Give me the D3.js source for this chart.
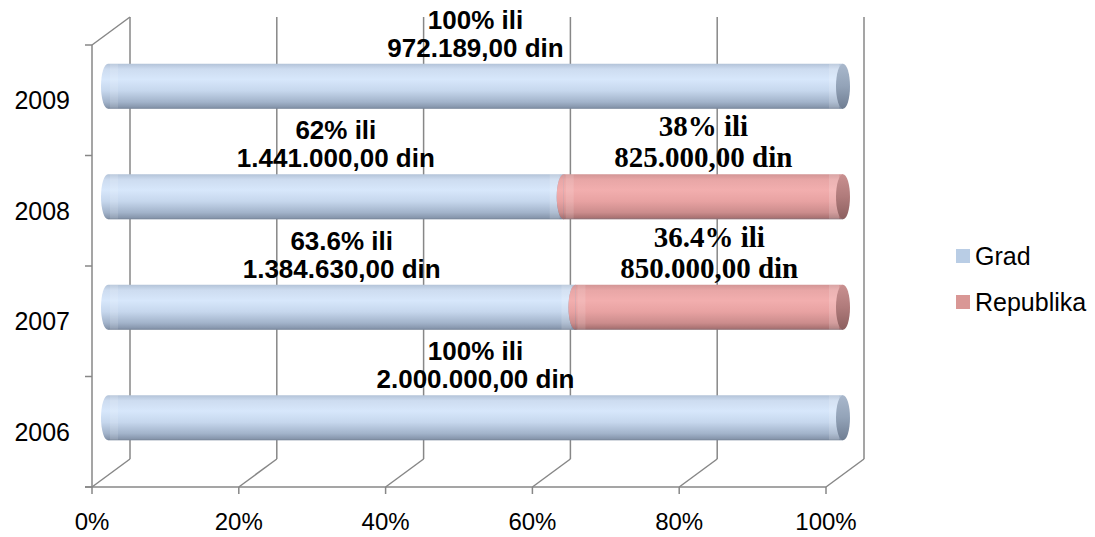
<!DOCTYPE html>
<html>
<head>
<meta charset="utf-8">
<script src="https://cdn.jsdelivr.net/npm/d3@7"></script>
<style>
  body { margin: 0; background: #fff; }
  text { font-family: "Liberation Sans", Arial, sans-serif; }
</style>
</head>
<body>
<div id="root"></div>
<script>
const years = ['2006', '2007', '2008', '2009'];
const gradShare = [1.0, 0.636, 0.62, 1.0];
const republikaShare = [0, 0.364, 0.38, 0];
const gradLabels = [
  ['100% ili', '2.000.000,00 din'],
  ['63.6% ili', '1.384.630,00 din'],
  ['62% ili', '1.441.000,00 din'],
  ['100% ili', '972.189,00 din']
];
const republikaLabels = [
  null,
  ['36.4% ili', '850.000,00 din'],
  ['38% ili', '825.000,00 din'],
  null
];
const xTicks = [0, 0.2, 0.4, 0.6, 0.8, 1];
const seriesNames = ['Grad', 'Republika'];

const width = 1095, height = 537;
const depth = {x: 38, y: -28};
const gridColor = '#878787';

let svg = d3.select('#root').append('svg')
  .attr('width', width)
  .attr('height', height);

// front frame scales
let x = d3.scaleLinear().domain([0, 1]).range([92, 826]);
let y = d3.scaleBand().domain(years.slice().reverse()).range([45, 487]).paddingInner(0);
// bars sit half way back in depth
let xb = d3.scaleLinear().domain([0, 1]).range([108, 843]);
const barH = 45, rx = 7;
const barCenter = (yr) => y(yr) + y.bandwidth() / 2 + depth.y / 2;

// gradients
let defs = svg.append('defs');
function cylGrad(id, stops) {
  let g = defs.append('linearGradient').attr('id', id)
    .attr('x1', 0).attr('y1', 0).attr('x2', 0).attr('y2', 1);
  stops.forEach(s => g.append('stop').attr('offset', s[0]).attr('stop-color', s[1]));
}
cylGrad('gradBody', [[0, '#b3c3d8'], [0.12, '#cddcf0'], [0.35, '#d7e7fb'], [0.6, '#c6d7ed'], [0.85, '#a2b3ca'], [1, '#7f8ea4']]);
cylGrad('gradFace', [[0, '#a9b8cc'], [0.5, '#93a3b8'], [1, '#6f7d92']]);
cylGrad('repBody', [[0, '#d29595'], [0.12, '#e8a6a6'], [0.35, '#f2aeae'], [0.6, '#e8a2a2'], [0.85, '#cb8c8c'], [1, '#a06b6b']]);
cylGrad('repFace', [[0, '#c99090'], [0.5, '#b07b7b'], [1, '#8c5f5f']]);

// back wall gridlines
let grid = svg.append('g').attr('stroke', gridColor).attr('stroke-width', 1.5).attr('fill', 'none');
grid.selectAll('.back')
  .data(xTicks)
  .enter().append('line')
  .attr('x1', d => x(d) + depth.x).attr('x2', d => x(d) + depth.x)
  .attr('y1', 45 + depth.y).attr('y2', 487 + depth.y);
// floor diagonals
grid.selectAll('.floor')
  .data(xTicks)
  .enter().append('line')
  .attr('x1', d => x(d)).attr('y1', 487)
  .attr('x2', d => x(d) + depth.x).attr('y2', 487 + depth.y);
// left wall
grid.append('line').attr('x1', x(0)).attr('x2', x(0)).attr('y1', 45).attr('y2', 487);
grid.append('line').attr('x1', x(0)).attr('y1', 45).attr('x2', x(0) + depth.x).attr('y2', 45 + depth.y);
// front bottom axis
grid.append('line').attr('x1', x(0) - 7).attr('x2', x(1)).attr('y1', 487).attr('y2', 487);
grid.selectAll('.xtick')
  .data(xTicks)
  .enter().append('line')
  .attr('x1', d => x(d)).attr('x2', d => x(d))
  .attr('y1', 487).attr('y2', 494);
// y ticks on band boundaries
let bounds = years.map(yr => y(yr)).concat([487]);
grid.selectAll('.ytick')
  .data(bounds)
  .enter().append('line')
  .attr('x1', x(0) - 7).attr('x2', x(0))
  .attr('y1', d => d).attr('y2', d => d);

// cylinders
function cylinder(g, x0, x1, cy, body, face) {
  let top = cy - barH / 2, bot = cy + barH / 2;
  g.append('path')
    .attr('d', `M${x0},${top} A${rx},${barH / 2} 0 0 0 ${x0},${bot} Z`)
    .attr('fill', `url(#${body})`);
  g.append('rect')
    .attr('x', x0).attr('y', top)
    .attr('width', x1 - x0).attr('height', barH)
    .attr('fill', `url(#${body})`);
  // soft highlight strips near ends
  g.append('rect')
    .attr('x', x0 + 2).attr('y', top).attr('width', 8).attr('height', barH)
    .attr('fill', '#fff').attr('opacity', 0.12);
  g.append('rect')
    .attr('x', x1 - 14).attr('y', top).attr('width', 10).attr('height', barH)
    .attr('fill', '#fff').attr('opacity', 0.15);
  g.append('ellipse')
    .attr('cx', x1).attr('cy', cy)
    .attr('rx', rx).attr('ry', barH / 2)
    .attr('fill', `url(#${face})`);
  g.append('line')
    .attr('x1', x0).attr('x2', x1).attr('y1', bot - 0.5).attr('y2', bot - 0.5)
    .attr('stroke', '#6f7b8c').attr('stroke-opacity', 0.35);
}

let bars = svg.append('g');
years.forEach((yr, i) => {
  let cy = barCenter(yr);
  if (gradShare[i] > 0) cylinder(bars, xb(0), xb(gradShare[i]), cy, 'gradBody', 'gradFace');
  if (republikaShare[i] > 0) cylinder(bars, xb(gradShare[i]), xb(gradShare[i] + republikaShare[i]), cy, 'repBody', 'repFace');
});

// data labels
let labels = svg.append('g').attr('text-anchor', 'middle').attr('font-weight', 'bold').attr('fill', '#000');
years.forEach((yr, i) => {
  let top = barCenter(yr) - barH / 2;
  if (gradLabels[i]) {
    let cx = (xb(0) + xb(gradShare[i])) / 2;
    let t = labels.append('text')
      .attr('font-size', 26)
      .style('font-family', '"Liberation Sans", Arial, sans-serif');
    t.append('tspan').attr('x', cx).attr('y', top - 35).text(gradLabels[i][0]);
    t.append('tspan').attr('x', cx).attr('y', top - 7).text(gradLabels[i][1]);
  }
  if (republikaLabels[i]) {
    let cx = (xb(gradShare[i]) + xb(gradShare[i] + republikaShare[i])) / 2;
    let t = labels.append('text')
      .attr('font-size', 29)
      .style('font-family', '"Liberation Serif", "Times New Roman", serif');
    t.append('tspan').attr('x', cx).attr('y', top - 38).text(republikaLabels[i][0]);
    t.append('tspan').attr('x', cx).attr('y', top - 7).text(republikaLabels[i][1]);
  }
});

// axis labels
svg.append('g').selectAll('text')
  .data(years)
  .enter().append('text')
  .attr('x', 70)
  .attr('y', d => y(d) + y.bandwidth() / 2)
  .attr('dy', '0.36em')
  .attr('text-anchor', 'end')
  .attr('font-size', 25)
  .attr('fill', '#000')
  .text(d => d);

svg.append('g').selectAll('text')
  .data(xTicks)
  .enter().append('text')
  .attr('x', d => x(d))
  .attr('y', 530)
  .attr('text-anchor', 'middle')
  .attr('font-size', 24)
  .attr('fill', '#000')
  .text(d => d3.format('.0%')(d));

// legend
const legendColors = ['#b9cde5', '#d99795'];
let legend = svg.selectAll('.legend')
  .data(seriesNames)
  .enter().append('g')
  .attr('class', 'legend')
  .attr('transform', (d, i) => 'translate(956,' + (249 + i * 46) + ')');
legend.append('rect')
  .attr('width', 14).attr('height', 14)
  .attr('fill', (d, i) => legendColors[i]);
legend.append('text')
  .attr('x', 19).attr('y', 16)
  .attr('font-size', 25)
  .attr('fill', '#000')
  .text(d => d);
</script>
</body>
</html>
